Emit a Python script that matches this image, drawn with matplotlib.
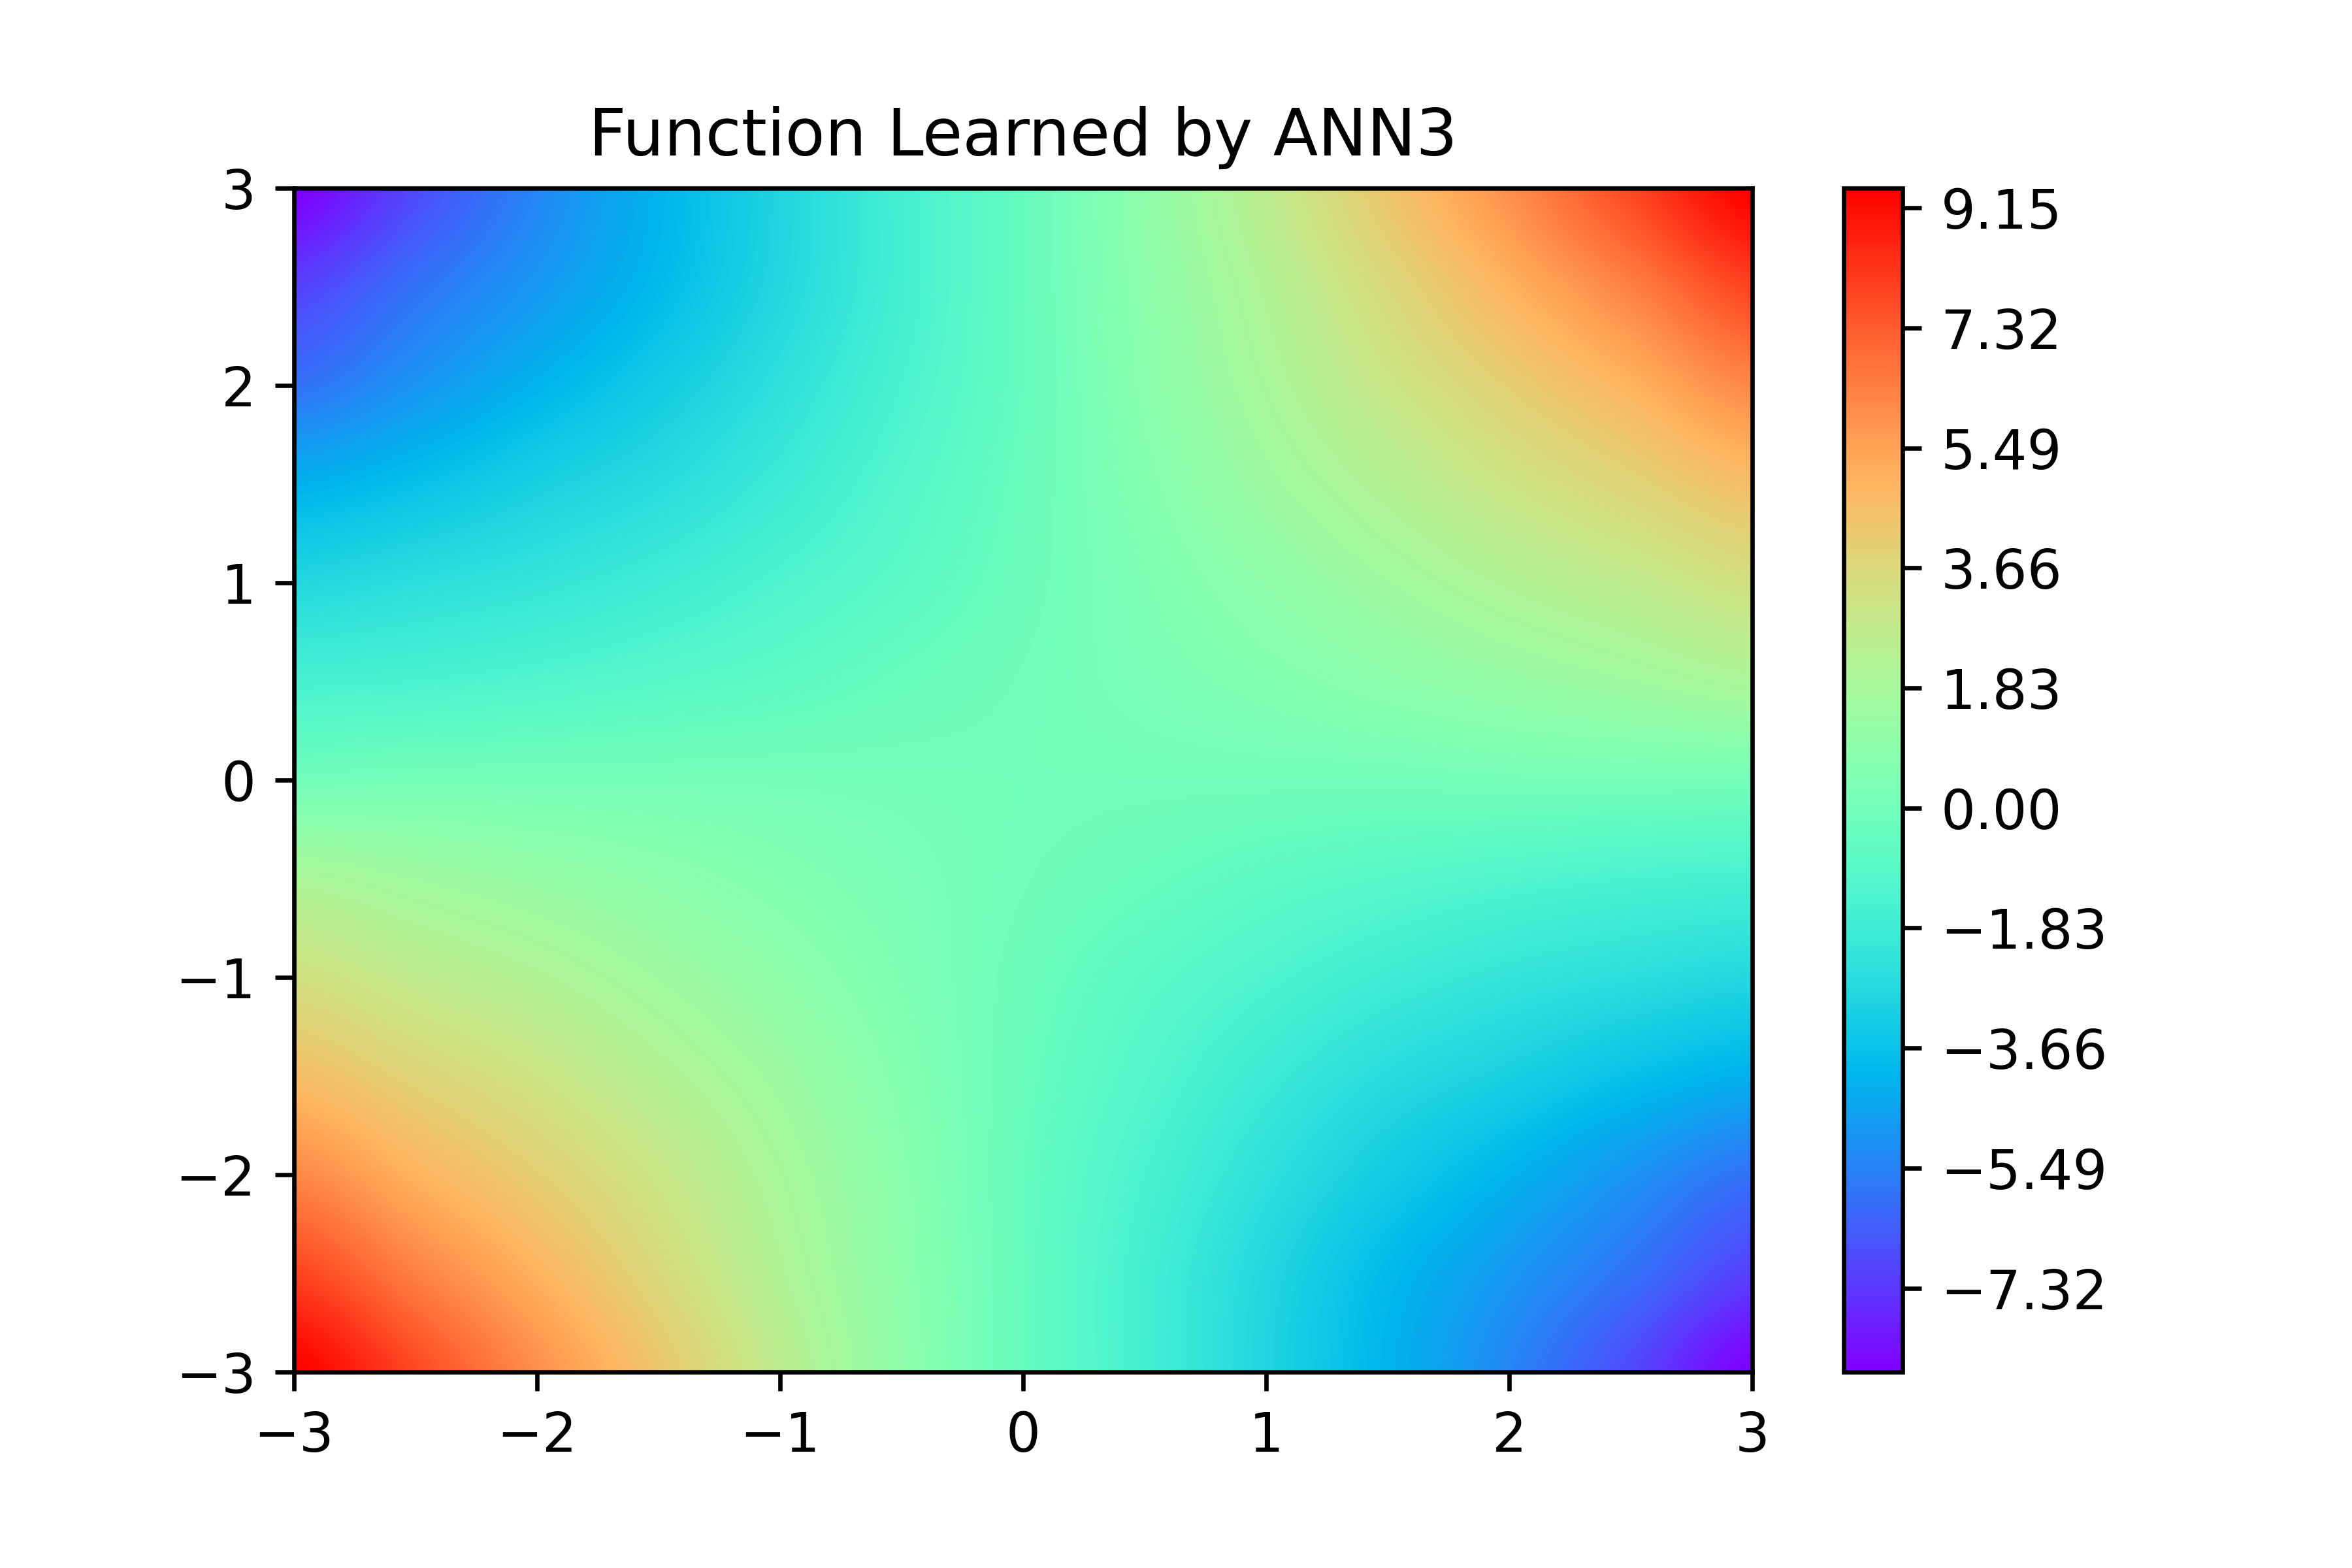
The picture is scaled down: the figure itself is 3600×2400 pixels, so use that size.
import numpy as np
import matplotlib
matplotlib.use("Agg")
import matplotlib.pyplot as plt

# values on a 0.5 grid, rows from y=3 down to y=-3
grid_x = [-3.0, -2.5, -2.0, -1.5, -1.0, -0.5, 0.0, 0.5, 1.0, 1.5, 2.0, 2.5, 3.0]
row_y_p30 = [-8.6, -6.9, -5.4, -4.1, -2.9, -1.6, -0.4, 1.0, 2.6, 4.3, 6.0, 7.8, 9.45]
row_y_p25 = [-7.1, -5.9, -4.9, -3.9, -2.8, -1.6, -0.4, 0.9, 2.2, 3.6, 5.0, 6.4, 7.9]
row_y_p20 = [-5.9, -5.0, -4.1, -3.3, -2.4, -1.4, -0.4, 0.8, 1.9, 3.0, 4.0, 5.0, 6.2]
row_y_p15 = [-4.2, -3.7, -3.1, -2.6, -1.9, -1.1, -0.3, 0.6, 1.5, 2.3, 3.1, 3.8, 4.6]
row_y_p10 = [-2.8, -2.5, -2.2, -1.8, -1.3, -0.8, -0.2, 0.4, 1.0, 1.6, 2.2, 2.7, 3.3]
row_y_p05 = [-1.5, -1.4, -1.2, -0.95, -0.7, -0.35, -0.05, 0.25, 0.55, 0.9, 1.25, 1.6, 2.0]
row_y_000 = [0.0, 0.1, 0.1, 0.1, 0.1, 0.05, 0.0, 0.0, 0.0, 0.0, 0.1, 0.1, 0.1]
row_y_m05 = [2.0, 1.6, 1.25, 0.9, 0.55, 0.25, -0.05, -0.35, -0.7, -0.95, -1.2, -1.4, -1.5]
row_y_m10 = [3.3, 2.7, 2.2, 1.6, 1.0, 0.4, -0.2, -0.8, -1.3, -1.8, -2.2, -2.5, -2.8]
row_y_m15 = [4.6, 3.8, 3.1, 2.3, 1.5, 0.6, -0.3, -1.1, -1.9, -2.6, -3.1, -3.7, -4.2]
row_y_m20 = [6.2, 5.0, 4.0, 3.0, 1.9, 0.8, -0.4, -1.4, -2.4, -3.3, -4.1, -5.0, -5.9]
row_y_m25 = [7.9, 6.4, 5.0, 3.6, 2.2, 0.9, -0.4, -1.6, -2.8, -3.9, -4.9, -5.9, -7.1]
row_y_m30 = [9.45, 7.8, 6.0, 4.3, 2.6, 1.0, -0.4, -1.6, -2.9, -4.1, -5.4, -6.9, -8.6]

cbar_ticks = [-7.32, -5.49, -3.66, -1.83, 0.00, 1.83, 3.66, 5.49, 7.32, 9.15]
VMIN, VMAX = -8.6, 9.45

z = np.array([row_y_p30, row_y_p25, row_y_p20, row_y_p15, row_y_p10, row_y_p05, row_y_000,
              row_y_m05, row_y_m10, row_y_m15, row_y_m20, row_y_m25, row_y_m30])

fig, ax = plt.subplots(figsize=(6, 4), dpi=600)
fig.subplots_adjust(bottom=0.125)

# half a cell of margin so the grid points sit on the axes edge
step = grid_x[1] - grid_x[0]
extent = (grid_x[0] - step / 2, grid_x[-1] + step / 2,
          grid_x[0] - step / 2, grid_x[-1] + step / 2)
im = ax.imshow(z, cmap="rainbow", vmin=VMIN, vmax=VMAX, extent=extent, aspect="auto",
               origin="upper", interpolation="catrom", interpolation_stage="data")
ax.set_xlim(-3, 3)
ax.set_ylim(-3, 3)
ax.set_title("Function Learned by ANN3")

cb = fig.colorbar(im, ax=ax)
cb.set_ticks(cbar_ticks)
cb.set_ticklabels([f"{t:.2f}".replace("-", "\u2212") for t in cbar_ticks])

fig.savefig("out.png", dpi=600)
plt.close(fig)
